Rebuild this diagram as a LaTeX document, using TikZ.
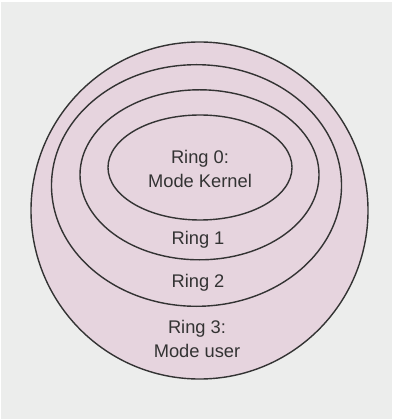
\documentclass[tikz,border=0pt]{standalone}
\usepackage{fontspec}
\setmainfont{Liberation Sans}
\definecolor{bggray}{HTML}{ECEDEC}
\definecolor{ringfill}{HTML}{E6D4DE}
\definecolor{ringline}{HTML}{333333}
\definecolor{txt}{HTML}{333333}
\begin{document}
\begin{tikzpicture}[x=1pt,y=-1pt,
  ring/.style={draw=ringline,line width=1.4pt,fill=ringfill},
  lbl/.style={text=txt,font=\fontsize{18.3}{24}\selectfont,align=center,inner sep=0pt}]
\fill[white] (0,0) rectangle (392,419);
\fill[bggray] (1,2) rectangle (392,419);
\useasboundingbox (0,0) rectangle (392,419);
\path[ring] (199.5,210.5) ellipse [x radius=168.5,y radius=168.5];
\path[ring] (196.5,185.5) ellipse [x radius=145,y radius=120.8];
\path[ring] (199.5,174.8) ellipse [x radius=119.5,y radius=85];
\path[ring] (200,167.5) ellipse [x radius=92,y radius=52.5];
\node[lbl] (r0) at (200,169) {Ring 0:\\Mode Kernel};
\node[lbl] (r1) at (198,240) {Ring 1};
\node[lbl] (r2) at (198,282.5) {Ring 2};
\node[lbl] (r3) at (197,339) {Ring 3:\\Mode user};
\end{tikzpicture}
\end{document}
